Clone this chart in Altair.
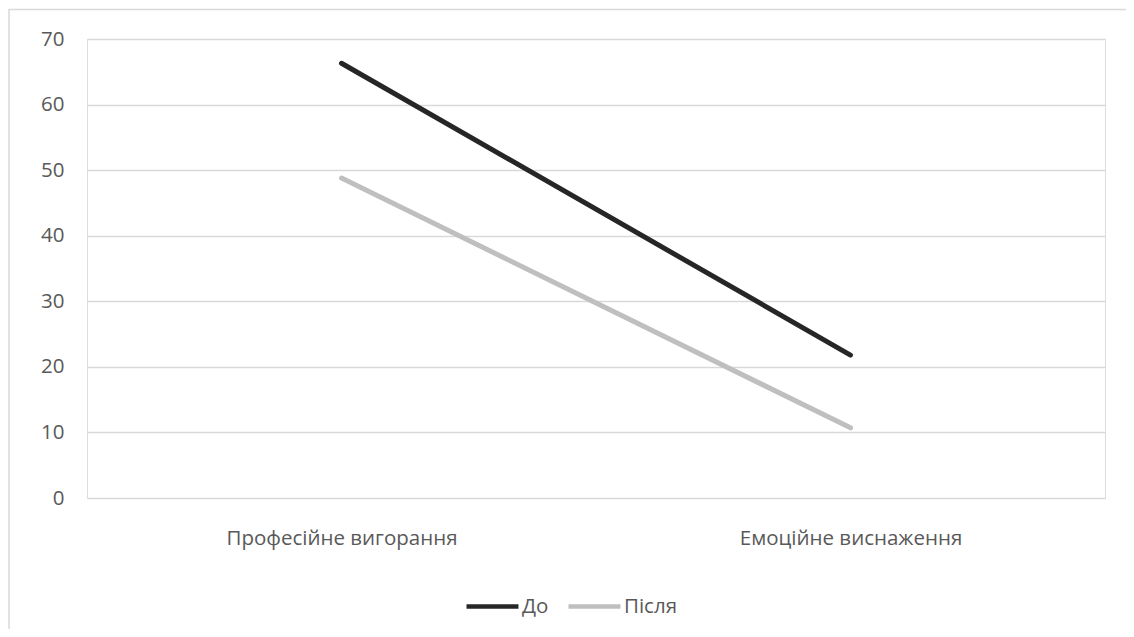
import altair as alt
import pandas as pd

categories = ["Професійне вигорання", "Емоційне виснаження"]
series_names = ["До", "Після"]
do_values = [66.3, 21.8]
pislia_values = [48.8, 10.7]
y_ticks = [0, 10, 20, 30, 40, 50, 60, 70]

rows = []
for s, vals in zip(series_names, [do_values, pislia_values]):
    for c, v in zip(categories, vals):
        rows.append({"category": c, "series": s, "value": v})
df = pd.DataFrame(rows)

FONT = "Open Sans"
FS = 20.5
W, H = 1018, 459
PL, PT = 79, 31
TOTAL_W, TOTAL_H = 1118, 621

lines = alt.Chart(df).mark_line(strokeWidth=5, strokeCap="round", strokeJoin="round").encode(
    x=alt.X("category:N", sort=categories, title=None,
            scale=alt.Scale(paddingInner=0, paddingOuter=0.5),
            axis=alt.Axis(labelAngle=0, ticks=False, domain=False, grid=False,
                          labelFontSize=FS, labelColor="#595959", labelFont=FONT,
                          labelPadding=30, labelLimit=500)),
    y=alt.Y("value:Q", title=None,
            scale=alt.Scale(domain=[0, 70], nice=False),
            axis=alt.Axis(values=y_ticks, ticks=False, domain=False,
                          labelFontSize=FS, labelColor="#595959", labelFont=FONT,
                          labelPadding=23, gridColor="#d9d9d9", gridWidth=1.3)),
    color=alt.Color("series:N", sort=series_names,
                    scale=alt.Scale(domain=series_names, range=["#262626", "#bfbfbf"]),
                    legend=alt.Legend(title=None, orient="none", direction="horizontal",
                                      legendX=377, legendY=539,
                                      symbolType="stroke", symbolSize=2700,
                                      symbolStrokeWidth=4.5, labelFontSize=FS,
                                      labelColor="#595959", labelFont=FONT,
                                      columnPadding=10, labelOffset=1)),
)

border = alt.Chart(pd.DataFrame({"a": [0]})).mark_rect(
    fill=None, stroke="#d9d9d9", strokeWidth=1.5
).encode(
    x=alt.value(-PL + 1), x2=alt.value(TOTAL_W - PL + 20),
    y=alt.value(-PT + 1.5), y2=alt.value(TOTAL_H - PT + 20),
)

chart = alt.layer(border, lines).properties(
    width=W, height=H,
    autosize=alt.AutoSizeParams(type="none"),
    padding={"left": PL, "top": PT, "right": TOTAL_W - PL - W, "bottom": TOTAL_H - PT - H},
).configure_view(stroke=None).configure(background="white", font=FONT)

chart.save("out.html", embed_options={"renderer": "svg", "actions": False})
